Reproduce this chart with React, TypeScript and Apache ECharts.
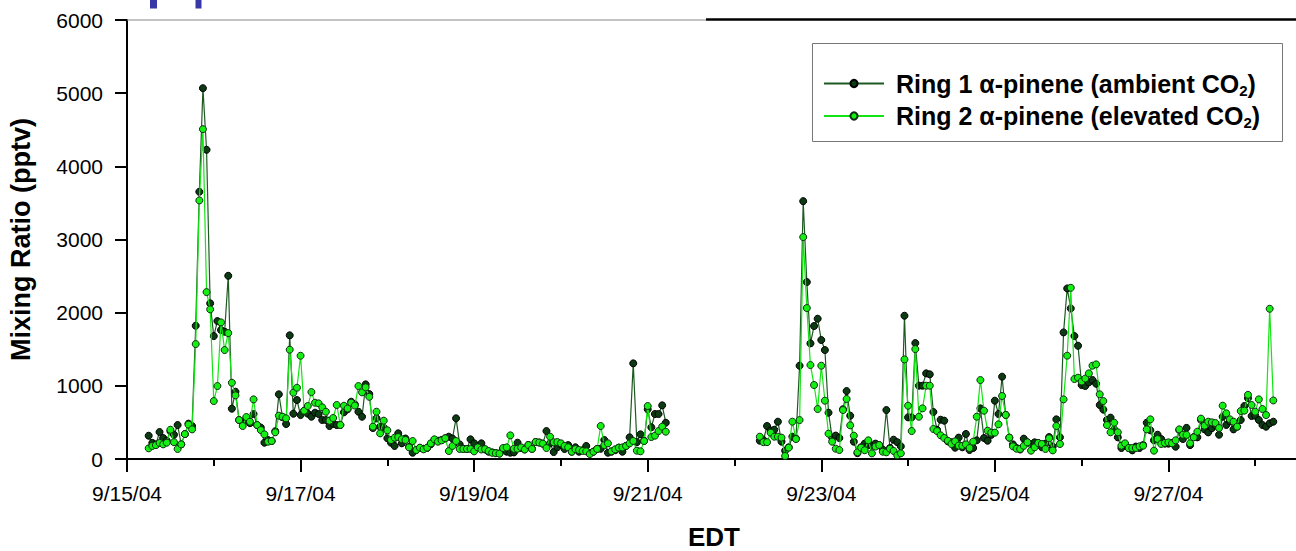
import { useEffect, useRef } from "react";
import * as echarts from "echarts";

// Hourly alpha-pinene mixing ratios (pptv). Hours are counted from 9/15/04 00:00 EDT.
const PART1_START_HOUR = 6; // 9/15 06:00
const PART2_START_HOUR = 175; // 9/22 07:00

const ring1Part1 = [
  318, 220, 200, 369, 287, 250, 380, 332, 464, 200, 340, 483,
  450, 1821, 3652, 5068, 4226, 2127, 1680, 1885, 1762, 1739, 2504, 688,
  920, 533, 500, 555, 490, 615, 464, 430, 223, 260, 246, 380,
  884, 570, 478, 1690, 619, 806, 601, 660, 620, 578, 633, 615,
  533, 533, 451, 480, 464, 465, 638, 679, 783, 747, 646, 578,
  1020, 888, 423, 556, 442, 430, 283, 223, 178, 351, 214, 280,
  170, 86, 123, 150, 140, 150, 200, 260, 250, 260, 283, 305,
  280, 556, 200, 140, 137, 269, 214, 159, 214, 130, 100, 90,
  80, 75, 140, 100, 86, 90, 223, 150, 130, 191, 140, 232,
  225, 210, 382, 214, 95, 160, 200, 137, 190, 100, 160, 100,
  120, 178, 80, 100, 137, 140, 260, 86, 100, 120, 155, 100,
  180, 296, 1307, 230, 337, 250, 679, 433, 615, 615, 733, 496,
];

const ring2Part1 = [
  146, 178, 190, 219, 200, 223, 400, 230, 137, 200, 341, 470,
  405, 1571, 3534, 4508, 2281, 2045, 792, 997, 1867, 1489, 1721, 1042,
  870, 533, 451, 574, 510, 815, 464, 396, 337, 237, 246, 365,
  592, 578, 556, 1494, 906, 974, 1411, 660, 724, 915, 769, 760,
  706, 646, 523, 560, 738, 465, 728, 690, 770, 730, 997, 911,
  980, 850, 442, 646, 350, 524, 392, 260, 291, 300, 270, 260,
  159, 246, 123, 155, 132, 155, 214, 269, 237, 255, 283, 109,
  178, 246, 137, 137, 137, 137, 105, 159, 130, 135, 109, 86,
  80, 73, 150, 159, 323, 140, 140, 159, 130, 191, 137, 232,
  225, 210, 150, 305, 228, 232, 214, 178, 160, 100, 135, 123,
  110, 105, 68, 100, 137, 451, 190, 214, 105, 132, 155, 159,
  178, 214, 246, 114, 105, 246, 724, 300, 319, 382, 442, 373,
];

const ring1Part2 = [
  250, 260, 451, 390, 400, 510, 237, 114, 160, 305, 280, 1275,
  3524, 2418, 1580, 1817, 1917, 1626, 1489, 633, 292, 320, 287, 680,
  929, 592, 237, 80, 160, 210, 190, 183, 210, 191, 130, 669,
  150, 264, 230, 173, 1958, 569, 569, 1584, 1002, 1002, 1170, 1157,
  642, 400, 537, 524, 241, 230, 155, 292, 160, 342, 123, 150,
  255, 692, 287, 250, 330, 797, 615, 1125, 602, 292, 200, 150,
  130, 278, 228, 200, 228, 219, 160, 210, 300, 170, 542, 296,
  1730, 2331, 2058, 1680, 1548, 1011, 998, 1047, 1080, 1029, 738, 675,
  533, 565, 405, 296, 150, 200, 150, 118, 170, 150, 190, 496,
  392, 255, 332, 273, 210, 210, 220, 168, 395, 273, 425, 190,
  300, 296, 535, 405, 364, 420, 460, 332, 578, 465, 515, 405,
  442, 533, 724, 832, 588, 592, 533, 465, 442, 487, 510,
];

const ring2Part2 = [
  305, 230, 230, 359, 305, 305, 292, 41, 155, 510, 273, 532,
  3033, 2063, 1284, 1011, 683, 1275, 797, 346, 237, 141, 123, 669,
  820, 460, 319, 91, 155, 120, 255, 77, 170, 191, 100, 91,
  140, 110, 50, 77, 1361, 728, 382, 1502, 578, 692, 1002, 1002,
  410, 382, 324, 287, 250, 205, 241, 183, 180, 200, 150, 237,
  578, 1079, 660, 387, 360, 360, 474, 861, 602, 292, 173, 141,
  137, 180, 228, 114, 160, 219, 205, 137, 283, 118, 451, 205,
  815, 1412, 2340, 1093, 1111, 1060, 1100, 1170, 1275, 1293, 884, 792,
  464, 365, 496, 365, 182, 214, 150, 150, 150, 173, 182, 405,
  542, 114, 273, 205, 219, 228, 214, 255, 405, 332, 330, 214,
  296, 373, 552, 455, 510, 501, 492, 423, 729, 624, 542, 510,
  442, 656, 661, 877, 738, 647, 815, 683, 601, 2053, 800,
];

const SERIES_NAMES = [
  "Ring 1 α-pinene (ambient CO₂)",
  "Ring 2 α-pinene (elevated CO₂)",
];
const LEGEND_RICH = [
  "{a|Ring 1 α-pinene (ambient CO}{s|2}{a|)}",
  "{a|Ring 2 α-pinene (elevated CO}{s|2}{a|)}",
];

const X_MIN_HOUR = 0; // 9/15/04
const X_MAX_HOUR = 336; // 9/29/04
const Y_TICKS = [0, 1000, 2000, 3000, 4000, 5000, 6000];

const FONT = "'Liberation Sans', Arial, Helvetica, sans-serif";

function toPoints(start: number, values: number[]) {
  return values.map((v, i) => [start + i, v]);
}

function buildSeriesData(part1: number[], part2: number[]) {
  const gapHour = PART1_START_HOUR + part1.length + 5;
  return [
    ...toPoints(PART1_START_HOUR, part1),
    [gapHour, null],
    ...toPoints(PART2_START_HOUR, part2),
  ];
}

function hourLabel(v: number) {
  if (v >= X_MAX_HOUR) return "";
  const day = 15 + Math.round(v / 24);
  return `9/${day}/04`;
}

export default function App() {
  const ref = useRef<HTMLDivElement>(null);

  useEffect(() => {
    if (!ref.current) return;
    const chart = echarts.init(ref.current, undefined, { renderer: "svg" });

    const option: any = {
      animation: false,
      backgroundColor: "#ffffff",
      grid: {
        left: 127,
        top: 20,
        width: 1215,
        height: 439,
        containLabel: false,
        outerBoundsMode: "none",
      },
      xAxis: {
        type: "value",
        min: X_MIN_HOUR,
        max: X_MAX_HOUR,
        interval: 48,
        axisLine: { show: true, onZero: false, lineStyle: { color: "#000", width: 2 } },
        axisTick: { show: true, length: 13, lineStyle: { color: "#000", width: 2 } },
        minorTick: { show: true, splitNumber: 2, length: 7, lineStyle: { color: "#000", width: 2 } },
        splitLine: { show: false },
        minorSplitLine: { show: false },
        axisLabel: {
          fontSize: 21,
          fontFamily: FONT,
          color: "#000",
          margin: 24,
          showMaxLabel: false,
          formatter: hourLabel,
        },
      },
      yAxis: {
        type: "value",
        min: Y_TICKS[0],
        max: Y_TICKS[Y_TICKS.length - 1],
        interval: 1000,
        name: "Mixing Ratio (pptv)",
        nameLocation: "middle",
        nameGap: 93,
        nameTextStyle: { fontSize: 27, fontWeight: "bold", fontFamily: FONT, color: "#000" },
        axisLine: { show: true, lineStyle: { color: "#000", width: 2 } },
        axisTick: { show: true, length: 12, lineStyle: { color: "#000", width: 2 } },
        splitLine: { show: false },
        axisLabel: {
          fontSize: 21,
          fontFamily: FONT,
          color: "#000",
          margin: 24,
          formatter: (v: number) => String(v),
        },
      },
      legend: {
        orient: "vertical",
        left: 823,
        top: 71,
        padding: 0,
        itemWidth: 60,
        itemHeight: 9,
        itemGap: 6,
        data: SERIES_NAMES,
        formatter: (name: string) => LEGEND_RICH[SERIES_NAMES.indexOf(name)],
        textStyle: {
          padding: [0, 0, 0, 7],
          rich: {
            a: { fontSize: 25, fontWeight: "bold", fontFamily: FONT, color: "#000", lineHeight: 28 },
            s: {
              fontSize: 15,
              fontWeight: "bold",
              fontFamily: FONT,
              color: "#000",
              lineHeight: 15,
              verticalAlign: "bottom",
            },
          },
        },
      },
      graphic: [
        {
          type: "rect",
          z: 1,
          shape: { x: 812.5, y: 43.5, width: 470, height: 98 },
          style: { fill: "none", stroke: "#777", lineWidth: 1 },
        },
        {
          type: "line",
          z: 10,
          shape: { x1: 127, y1: 20, x2: 706, y2: 20 },
          style: { stroke: "#888", lineWidth: 1 },
        },
        {
          type: "line",
          z: 10,
          shape: { x1: 706, y1: 19.5, x2: 1296, y2: 19.5 },
          style: { stroke: "#000", lineWidth: 2.5 },
        },
        {
          type: "rect",
          z: 10,
          shape: { x: 150, y: 0, width: 7, height: 8.5 },
          style: { fill: "#3737a8" },
        },
        {
          type: "rect",
          z: 10,
          shape: { x: 195.5, y: 0, width: 6, height: 8.5 },
          style: { fill: "#3737a8" },
        },
        {
          type: "text",
          z: 10,
          x: 714,
          y: 537,
          style: {
            text: "EDT",
            fontSize: 26,
            fontWeight: "bold",
            fontFamily: FONT,
            fill: "#000",
            textAlign: "center",
            textVerticalAlign: "middle",
            align: "center",
            verticalAlign: "middle",
          },
        },
      ],
      series: [
        {
          name: SERIES_NAMES[0],
          type: "line",
          data: buildSeriesData(ring1Part1, ring1Part2),
          symbol: "circle",
          symbolSize: 7,
          showAllSymbol: true,
          connectNulls: false,
          lineStyle: { color: "#1d5a22", width: 1.2 },
          itemStyle: { color: "#0c3a12", borderColor: "#000", borderWidth: 1 },
          emphasis: { disabled: true },
          z: 2,
        },
        {
          name: SERIES_NAMES[1],
          type: "line",
          data: buildSeriesData(ring2Part1, ring2Part2),
          symbol: "circle",
          symbolSize: 7,
          showAllSymbol: true,
          connectNulls: false,
          lineStyle: { color: "#12e512", width: 1.2 },
          itemStyle: { color: "#14f014", borderColor: "#0e2e10", borderWidth: 1 },
          emphasis: { disabled: true },
          z: 3,
        },
      ],
    };

    chart.setOption(option);
    return () => chart.dispose();
  }, []);

  return (
    <div
      ref={ref}
      style={{ position: "absolute", left: 0, top: 0, width: 1296, height: 551 }}
    />
  );
}
